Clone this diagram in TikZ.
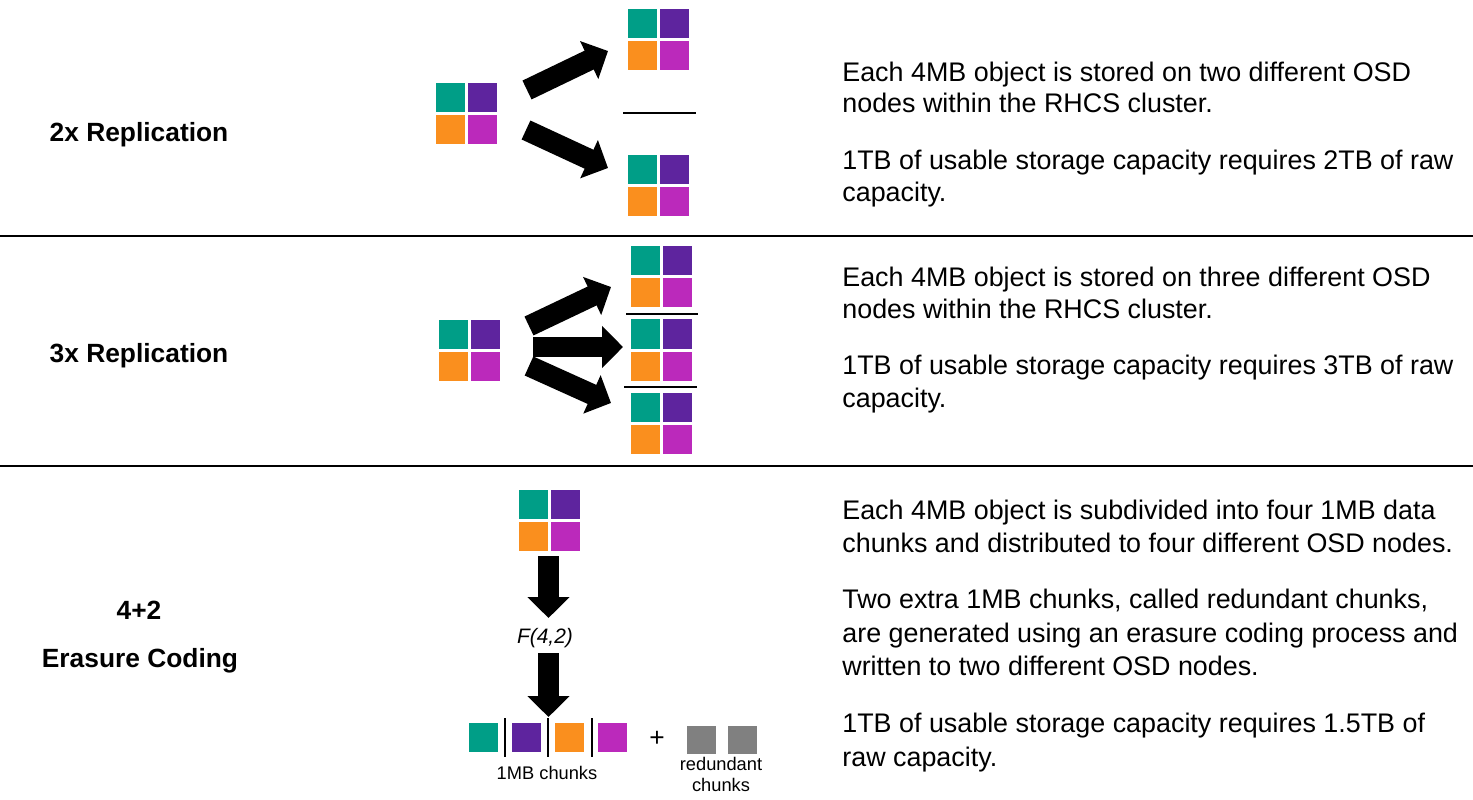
\documentclass[tikz,border=0pt]{standalone}
\usepackage{fontspec}
\setmainfont{Liberation Sans}
\usetikzlibrary{arrows.meta}
\definecolor{chunkteal}{RGB}{0,158,135}
\definecolor{chunkpurple}{RGB}{94,36,158}
\definecolor{chunkorange}{RGB}{250,143,30}
\definecolor{chunkmagenta}{RGB}{187,41,187}
\definecolor{chunkgray}{RGB}{128,128,128}
\tikzset{
	fatarrow/.style={line width=11.9pt,-{Triangle[width=23.3pt,length=11.9pt]}},
	rowtitle/.style={anchor=base,font=\fontsize{15}{18}\selectfont\bfseries},
	desc/.style={anchor=base west,inner sep=0pt,font=\fontsize{15.3}{18}\selectfont},
	small/.style={anchor=base,inner sep=0pt,font=\fontsize{10.4}{12}\selectfont},
	quadobj/.pic={
		\fill[chunkteal] (-30.5,-30.5) rectangle (-1.5,-1.5);
		\fill[chunkpurple] (1.5,-30.5) rectangle (30.5,-1.5);
		\fill[chunkorange] (-30.5,1.5) rectangle (-1.5,30.5);
		\fill[chunkmagenta] (1.5,1.5) rectangle (30.5,30.5);
	}
}
\begin{document}
\begin{tikzpicture}[x=0.02cm,y=-0.02cm]
	\useasboundingbox (0,0) rectangle (1473,800);
	% rows
	\draw[line width=1.1pt] (0,236) -- (1473,236) (0,466) -- (1473,466);
	\node[rowtitle] (t2x) at (139,142) {2x Replication};
	\node[rowtitle] (t3x) at (139,362) {3x Replication};
	\node[rowtitle] (t42) at (139,619) {4+2};
	\node[rowtitle] (tec) at (140,667) {Erasure Coding};
	% 2x
	\path
	(466.5,113.5) coordinate (R2)
	(658.5,39.5) coordinate (R2a)
	(658.5,186) coordinate (R2b)
	(527,90) coordinate (A1) (608,51) coordinate (B1)
	(526,130) coordinate (A2) (608,168) coordinate (B2)
	;
	\foreach \p in {R2,R2a,R2b} \pic at (\p) {quadobj};
	\draw[fatarrow] (A1) -- (B1);
	\draw[fatarrow] (A2) -- (B2);
	\draw[line width=0.8pt] (623,113) -- (696,113);
	% 3x
	\path
	(469,350.5) coordinate (R3)
	(661,276.5) coordinate (R3a)
	(661,350) coordinate (R3b)
	(661.5,423) coordinate (R3c)
	(529,326) coordinate (A3) (611,287) coordinate (B3)
	(533,347) coordinate (A4) (623,347) coordinate (B4)
	(529,366) coordinate (A5) (611,403) coordinate (B5)
	;
	\foreach \p in {R3,R3a,R3b,R3c} \pic at (\p) {quadobj};
	\foreach \i in {3,4,5} \draw[fatarrow] (A\i) -- (B\i);
	\draw[line width=0.9pt] (626,314) -- (698,314) (624,387) -- (697,387);
	% 4+2
	\path
	(549.5,520) coordinate (EC)
	(548.5,556) coordinate (A6) (548.5,618) coordinate (B6)
	(548.5,653) coordinate (A7) (548.5,717) coordinate (B7)
	;
	\pic at (EC) {quadobj};
	\draw[fatarrow] (A6) -- (B6);
	\node[anchor=base,inner sep=0pt,font=\fontsize{11.9}{14}\selectfont\itshape] (f42) at (545,643) {F(4,2)};
	\draw[fatarrow] (A7) -- (B7);
	\foreach \c/\x in {chunkteal/469,chunkpurple/512,chunkorange/555,chunkmagenta/598}
	\fill[\c] (\x,723) rectangle +(29,29);
	\foreach \x in {505,548,592}
	\draw[line width=0.9pt] (\x,718) -- (\x,757);
	\node[anchor=center,font=\fontsize{15}{18}\selectfont] (plus) at (657,739) {+};
	\foreach \x in {687,728}
	\fill[chunkgray] (\x,726) rectangle +(29,28);
	\node[small] (dchunks) at (547,779) {1MB chunks};
	\node[small] (rchunks) at (721,770) {redundant};
	\node[small] (rchunks2) at (721,791) {chunks};
	% texts
	\foreach \y/\t in {82/{Each 4MB object is stored on two different OSD},
		113/{nodes within the RHCS cluster.},
		170/{1TB of usable storage capacity requires 2TB of raw},
		202/{capacity.},
		287/{Each 4MB object is stored on three different OSD},
		318/{nodes within the RHCS cluster.},
		375/{1TB of usable storage capacity requires 3TB of raw},
		407/{capacity.},
		519/{Each 4MB object is subdivided into four 1MB data},
		552/{chunks and distributed to four different OSD nodes.},
		608/{Two extra 1MB chunks, called redundant chunks,},
		642/{are generated using an erasure coding process and},
		675/{written to two different OSD nodes.},
		732/{1TB of usable storage capacity requires 1.5TB of},
		766/{raw capacity.}}
	\node[desc] (d\y) at (842,\y) {\t};
\end{tikzpicture}
\end{document}
